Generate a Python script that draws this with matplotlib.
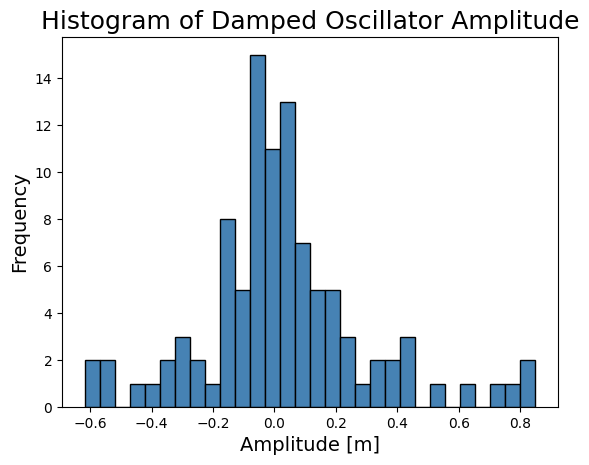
import numpy as np
import matplotlib.pyplot as plt

# histogram counts (30 bins)
counts = [2, 2, 0, 1, 1, 2, 3, 2, 1, 8, 5, 15, 11, 13, 7,
          5, 5, 3, 1, 2, 2, 3, 0, 1, 0, 1, 0, 1, 1, 2]
x_min, x_max = -0.618, 0.850

edges = np.linspace(x_min, x_max, len(counts) + 1)
centers = (edges[:-1] + edges[1:]) / 2

fig = plt.figure(figsize=(5.89, 4.65), dpi=100)
ax = fig.add_axes([62 / 589, 1 - 407 / 465, (558 - 62) / 589, (407 - 37) / 465])
ax.hist(centers, bins=edges, weights=counts, color='steelblue', edgecolor='black')
ax.set_title('Histogram of Damped Oscillator Amplitude', fontsize=18)
ax.set_xlabel('Amplitude [m]', fontsize=14)
ax.set_ylabel('Frequency', fontsize=14)

fig.savefig('out.png', dpi=100)
